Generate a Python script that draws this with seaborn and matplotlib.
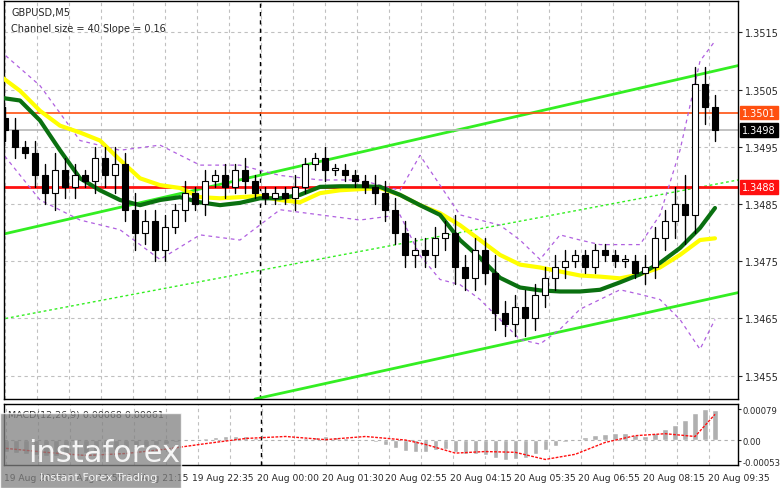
import matplotlib
matplotlib.use("Agg")
import matplotlib.pyplot as plt
import seaborn as sns
import numpy as np
from matplotlib.patches import Rectangle

sns.set_style("white")
plt.rcParams['font.family'] = ['DejaVu Sans']

# candles (one per slot), open = previous close
closes = [1.3498, 1.3495, 1.3494, 1.3490, 1.3487, 1.3491, 1.3488, 1.3490, 1.3489, 1.3493,
          1.3490, 1.3492, 1.3484, 1.3480, 1.3482, 1.3477, 1.3481, 1.3484, 1.3487, 1.3485,
          1.3489, 1.3490, 1.3488, 1.3491, 1.3489, 1.3487, 1.3486, 1.3487, 1.3486, 1.3488,
          1.3492, 1.3493, 1.3491, 1.3491, 1.3490, 1.3489, 1.3488, 1.3487, 1.3484, 1.3480,
          1.3476, 1.3477, 1.3476, 1.3479, 1.3480, 1.3474, 1.3472, 1.3477, 1.3473, 1.3466,
          1.3464, 1.3467, 1.3465, 1.3469, 1.3472, 1.3474, 1.3475, 1.3476, 1.3474, 1.3477,
          1.3476, 1.3475, 1.3475, 1.3473, 1.3474, 1.3479, 1.3482, 1.3485, 1.3483, 1.3506,
          1.3502, 1.3498]
first_open = 1.3500
wick = [2, 2, 1, 2, 2, 3, 2, 2, 1, 2, 2, 3, 2, 3, 2, 2, 2, 1, 2, 1,
        2, 1, 2, 1, 2, 1, 1, 1, 1, 2, 1, 1, 2, 1, 1, 1, 1, 2, 2, 2,
        2, 2, 2, 2, 2, 3, 2, 2, 2, 3, 2, 2, 3, 2, 2, 2, 2, 1, 1, 1,
        1, 1, 1, 1, 2, 2, 2, 3, 5, 3, 3, 2]

# moving averages, sampled at slot positions
ma_idx = [-0.5, 1.5, 3.5, 5.5, 7.5, 9.5, 11.5, 13.5, 15.5, 17.5, 19.5, 21.5, 23.5, 25.5,
          27.5, 29.5, 31.5, 33.5, 35.5, 37.5, 39.5, 41.5, 43.5, 45.5, 47.5, 49.5, 51.5,
          53.5, 55.5, 57.5, 59.5, 61.5, 63.5, 65.5, 67.5, 69.5, 71.0]
ma_green = [1.35036, 1.35031, 1.34996, 1.34944, 1.34895, 1.34874, 1.34857, 1.34848, 1.34857,
            1.34862, 1.34853, 1.34848, 1.34852, 1.34860, 1.34860, 1.34866, 1.34880, 1.34881,
            1.34881, 1.34880, 1.34866, 1.34848, 1.34831, 1.34787, 1.34756, 1.34721, 1.34704,
            1.34699, 1.34697, 1.34697, 1.34700, 1.34713, 1.34727, 1.34747, 1.34773, 1.34808,
            1.34843]
ma_yellow = [1.35074, 1.35048, 1.35013, 1.34987, 1.34975, 1.34961, 1.34927, 1.34895, 1.34883,
             1.34878, 1.34862, 1.34860, 1.34862, 1.34864, 1.34857, 1.34853, 1.34869, 1.34874,
             1.34876, 1.34878, 1.34866, 1.34848, 1.34834, 1.34813, 1.34787, 1.34761, 1.34744,
             1.34739, 1.34732, 1.34725, 1.34723, 1.34720, 1.34727, 1.34739, 1.34761, 1.34787,
             1.34790]
# envelope (dashed purple)
bb_idx = [-0.5, 3.5, 7.5, 11.5, 15.5, 19.5, 23.5, 27.5, 31.5, 35.5, 39.5, 41.5, 43.5, 45.5,
          47.5, 49.5, 51.5, 53.5, 55.5, 57.5, 59.5, 61.5, 63.5, 65.5, 67.5, 69.5, 71.0]
bb_up = [1.35118, 1.35057, 1.34961, 1.34944, 1.34953, 1.34918, 1.34918, 1.34900, 1.34892,
         1.34892, 1.34874, 1.34935, 1.34883, 1.34831, 1.34822, 1.34813, 1.34787, 1.34753,
         1.34796, 1.34787, 1.34779, 1.34779, 1.34779, 1.34831, 1.34944, 1.35100, 1.35135]
bb_low = [1.34944, 1.34857, 1.34822, 1.34805, 1.34753, 1.34796, 1.34787, 1.34840, 1.34831,
          1.34822, 1.34831, 1.34760, 1.34718, 1.34709, 1.34683, 1.34648, 1.34613, 1.34605,
          1.34631, 1.34666, 1.34683, 1.34700, 1.34692, 1.34683, 1.34648, 1.34596, 1.34648]

macd_hist = [-0.00030, -0.00032, -0.00035, -0.00038, -0.00040, -0.00040, -0.00038, -0.00035,
             -0.00032, -0.00030, -0.00028, -0.00025, -0.00022, -0.00020, -0.00016, -0.00012,
             -0.00008, -0.00005, -0.00002, 0.00002, 0.00005, 0.00008, 0.00010, 0.00011,
             0.00010, 0.00006, 0.00003, 0.00001, 0.00000, 0.00002, 0.00006, 0.00009, 0.00010,
             0.00009, 0.00006, 0.00004, 0.00001, -0.00004, -0.00012, -0.00020, -0.00027,
             -0.00030, -0.00030, -0.00025, -0.00022, -0.00030, -0.00035, -0.00033, -0.00038,
             -0.00045, -0.00050, -0.00048, -0.00045, -0.00035, -0.00025, -0.00015, -0.00005,
             0.00003, 0.00008, 0.00013, 0.00017, 0.00019, 0.00018, 0.00014, 0.00012, 0.00018,
             0.00028, 0.00040, 0.00052, 0.00070, 0.00080, 0.00076]
sig_idx = [0, 4, 8, 12, 16, 20, 24, 28, 32, 36, 40, 42, 45, 48, 51, 54, 57, 60, 63, 66, 69, 71]
macd_sig = [-0.00020, -0.00030, -0.00038, -0.00033, -0.00022, -0.00008, 0.00005, 0.00010,
            0.00002, 0.00010, 0.00001, -0.00010, -0.00032, -0.00028, -0.00030, -0.00048,
            -0.00035, -0.00005, 0.00012, 0.00017, 0.00010, 0.00066]

price_ticks = [1.3455, 1.3465, 1.3475, 1.3485, 1.3495, 1.3505, 1.3515]
time_labels = ["19 Aug 2025", "19 Aug 19:55", "19 Aug 21:15", "19 Aug 22:35", "20 Aug 00:00",
               "20 Aug 01:30", "20 Aug 02:55", "20 Aug 04:15", "20 Aug 05:35", "20 Aug 06:55",
               "20 Aug 08:15", "20 Aug 09:35"]
time_idx = [-0.2, 5.6, 12.1, 18.6, 25.1, 31.6, 38.0, 44.5, 50.9, 57.3, 63.8, 70.3]

W, H = 781, 489
fig = plt.figure(figsize=(W / 100, H / 100), dpi=100)
fig.patch.set_facecolor("white")
xl = (-0.1, 73.3)
ax = fig.add_axes([4 / W, (H - 400) / H, 734 / W, 398 / H])
mx = fig.add_axes([4 / W, (H - 466) / H, 734 / W, 61 / H])

# main panel
ax.set_xlim(*xl)
ax.set_ylim(1.34509, 1.35205)
for g in np.arange(0, 74, 3.2):
    ax.axvline(g, color="#c0c0c0", ls=(0, (3, 3)), lw=0.8, zorder=0)
    mx.axvline(g, color="#c0c0c0", ls=(0, (3, 3)), lw=0.8, zorder=0)
for p in price_ticks:
    ax.axhline(p, color="#c0c0c0", ls=(0, (3, 3)), lw=0.8, zorder=0)
ax.axvline(25.5, color="black", ls=(0, (3, 3)), lw=1, zorder=1)
mx.axvline(25.5, color="black", ls=(0, (3, 3)), lw=1, zorder=1)

# channel
ax.plot([-0.5, 73.3], [1.34796, 1.35092], color="#33ee22", lw=2, zorder=2)
ax.plot([25.0, 73.3], [1.34509, 1.34695], color="#33ee22", lw=2, zorder=2)
ax.plot([-0.5, 73.3], [1.34648, 1.34892], color="#33ee22", lw=1, ls=(0, (2, 2)), zorder=2)

ax.axhline(1.3501, color="#ff5010", lw=1.2, zorder=2)
ax.axhline(1.3498, color="#b8b8b8", lw=1.2, zorder=2)
ax.axhline(1.3488, color="#ff1010", lw=2, zorder=2)

sns.lineplot(x=bb_idx, y=bb_up, ax=ax, color="#b060e0", lw=0.9, ls=(0, (3, 3)), zorder=2)
sns.lineplot(x=bb_idx, y=bb_low, ax=ax, color="#b060e0", lw=0.9, ls=(0, (3, 3)), zorder=2)
sns.lineplot(x=ma_idx, y=ma_yellow, ax=ax, color="#ffff00", lw=3, zorder=3)
sns.lineplot(x=ma_idx, y=ma_green, ax=ax, color="#0a7010", lw=3, zorder=3)

opens = [first_open] + closes[:-1]
for i, (o, c, w) in enumerate(zip(opens, closes, wick)):
    hi = max(o, c) + w * 0.0001
    lo = min(o, c) - w * 0.0001
    ax.plot([i, i], [lo, hi], color="black", lw=1, zorder=4)
    body = max(abs(c - o), 0.00003)
    fc = "white" if c >= o else "black"
    ax.add_patch(Rectangle((i - 0.3, min(o, c)), 0.6, body, facecolor=fc,
                           edgecolor="black", lw=0.8, zorder=5))

ax.set_xticks([])
ax.yaxis.tick_right()
ax.set_yticks(price_ticks)
ax.set_yticklabels([f"{p:.4f}" for p in price_ticks], fontsize=7)
ax.tick_params(axis="y", length=3, pad=2)
for lvl, txt, col in [(1.3501, "1.3501", "#ff5010"),
                      (1.3498, "1.3498", "black"),
                      (1.3488, "1.3488", "#ff1010")]:
    ax.text(1.006, lvl, txt, transform=ax.get_yaxis_transform(), fontsize=7, color="white",
            va="center", ha="left",
            bbox=dict(boxstyle="square,pad=0.2", fc=col, ec=col))
ax.text(0.01, 0.985, "GBPUSD,M5", transform=ax.transAxes, fontsize=7, va="top")
ax.text(0.01, 0.945, "Channel size = 40 Slope = 0.16", transform=ax.transAxes, fontsize=7, va="top")

# MACD panel
mx.set_xlim(*xl)
mx.set_ylim(-0.00062, 0.00092)
mx.bar(np.arange(len(macd_hist)), macd_hist, width=0.55, color="#b0b0b0", zorder=2)
sns.lineplot(x=sig_idx, y=macd_sig, ax=mx, color="#ff1010", lw=1, ls=(0, (2, 1)), zorder=3)
mx.axhline(0, color="#b0b0b0", ls=(0, (3, 3)), lw=0.8)
mx.yaxis.tick_right()
mx.set_yticks([-0.00053, 0.0, 0.00079])
mx.set_yticklabels(["-0.00053", "0.00", "0.00079"], fontsize=6.1)
mx.tick_params(axis="y", length=2, pad=1)
mx.set_xticks(time_idx)
mx.set_xticklabels(time_labels, fontsize=6.6, ha="left")
mx.tick_params(axis="x", length=3, pad=3)
mx.text(0.005, 0.9, "MACD(12,26,9) 0.00068 0.00061", transform=mx.transAxes, fontsize=6.8, va="top")

for a in (ax, mx):
    for s in a.spines.values():
        s.set_color("black")
        s.set_linewidth(1)

# watermark
fig.patches.append(Rectangle((0, 0), 181 / W, 75 / H, transform=fig.transFigure,
                             facecolor="#808080", alpha=0.75, zorder=10))
fig.text(28 / W, 27 / H, "instaforex", fontsize=22, color="white", zorder=11, alpha=0.9)
fig.text(40 / W, 8 / H, "Instant Forex Trading", fontsize=8, color="white", zorder=11, alpha=0.9)

fig.savefig("out.png", dpi=100)
